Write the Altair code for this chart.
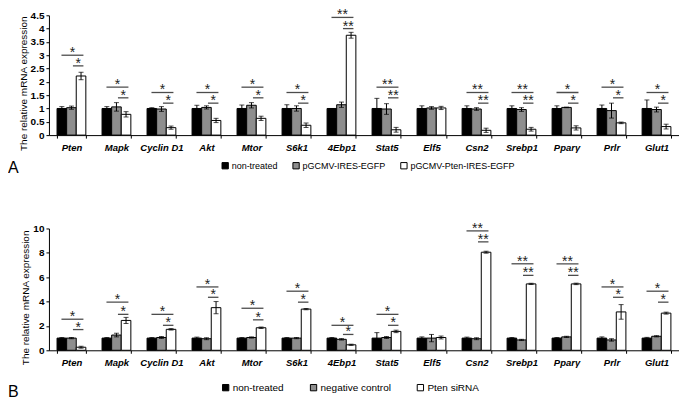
import altair as alt
import pandas as pd

genes = ["Pten", "Mapk", "Cyclin D1", "Akt", "Mtor", "S6k1", "4Ebp1", "Stat5",
         "Elf5", "Csn2", "Srebp1", "Pparγ", "Prlr", "Glut1"]

# ---- Panel A ----
a_series = ["non-treated", "pGCMV-IRES-EGFP", "pGCMV-Pten-IRES-EGFP"]
a_nt = [1, 1, 1, 1, 1, 1, 1, 1, 1, 1, 1, 1, 1, 1]
a_nt_err = [0.07, 0.07, 0.03, 0.12, 0.13, 0.14, 0.0, 0.38, 0.1, 0.1, 0.1, 0.1, 0.13, 0.32]
a_ctrl = [1.03, 1.06, 0.98, 1.04, 1.12, 1.0, 1.14, 0.98, 1.02, 0.98, 0.96, 1.04, 0.92, 0.96]
a_ctrl_err = [0.06, 0.16, 0.09, 0.06, 0.1, 0.1, 0.1, 0.2, 0.05, 0.05, 0.07, 0.01, 0.28, 0.09]
a_pten = [2.22, 0.78, 0.28, 0.55, 0.63, 0.37, 3.75, 0.2, 1.02, 0.18, 0.22, 0.27, 0.46, 0.32]
a_pten_err = [0.14, 0.1, 0.06, 0.08, 0.08, 0.08, 0.11, 0.09, 0.06, 0.08, 0.07, 0.08, 0.03, 0.09]
a_big = [3.0, 1.8, 1.6, 1.6, 1.8, 1.6, 4.42, 1.8, None, 1.6, 1.6, 1.6, 1.8, 1.6]
a_small = [2.6, 1.4, 1.2, 1.2, 1.4, 1.2, 4.0, 1.4, None, 1.2, 1.2, 1.2, 1.4, 1.2]
a_stars = ["*", "*", "*", "*", "*", "*", "**", "**", "", "**", "**", "*", "*", "*"]
a_ticks = [0, 0.5, 1, 1.5, 2, 2.5, 3, 3.5, 4, 4.5]

# ---- Panel B ----
b_series = ["non-treated", "negative control", "Pten siRNA"]
b_nt = [1, 1, 1, 1, 1, 1, 1, 1, 1, 1, 1, 1, 1, 1]
b_nt_err = [0.05, 0.05, 0.05, 0.08, 0.05, 0.05, 0.05, 0.45, 0.1, 0.08, 0.05, 0.05, 0.1, 0.06]
b_ctrl = [1.0, 1.25, 1.05, 0.95, 1.05, 1.0, 0.9, 1.05, 1.0, 0.95, 0.85, 1.1, 0.85, 1.15]
b_ctrl_err = [0.05, 0.15, 0.08, 0.08, 0.05, 0.05, 0.06, 0.08, 0.3, 0.08, 0.05, 0.05, 0.1, 0.05]
b_si = [0.25, 2.45, 1.72, 3.5, 1.85, 3.38, 0.45, 1.55, 1.05, 8.05, 5.45, 5.45, 3.15, 3.05]
b_si_err = [0.08, 0.25, 0.06, 0.5, 0.06, 0.05, 0.05, 0.1, 0.12, 0.08, 0.05, 0.06, 0.6, 0.08]
b_big = [2.55, 3.95, 2.95, 5.2, 3.45, 4.85, 2.05, 2.95, None, 9.8, 7.1, 7.1, 5.2, 4.85]
b_small = [1.7, 2.95, 2.05, 4.35, 2.5, 3.95, 1.3, 2.05, None, 8.9, 6.15, 6.15, 4.35, 3.95]
b_stars = ["*", "*", "*", "*", "*", "*", "*", "*", "", "**", "**", "**", "*", "*"]
b_ticks = [0, 2, 4, 6, 8, 10]

colors = ["#000000", "#8e8e8e", "#ffffff"]
FONT = "Liberation Sans"


def panel(series, vals, errs, big, small, stars, ymax, tickvals, fmt, height, letter,
          letter_y, legend_x, legend_y, col_pad, legend_fs):
    rows = []
    for si, (s, v, e) in enumerate(zip(series, vals, errs)):
        for g, vv, ee in zip(genes, v, e):
            rows.append({"gene": g, "series": s, "idx": si, "value": vv,
                         "lo": vv - ee, "hi": vv + ee})
    df = pd.DataFrame(rows)
    br = pd.DataFrame({"gene": genes, "big": big, "small": small, "stars": stars})
    br = br[br["stars"] != ""]

    x = alt.X("gene:N", sort=genes,
              scale=alt.Scale(paddingInner=0.36, paddingOuter=0.18),
              axis=alt.Axis(title=None, labelAngle=0, tickBand="extent", tickSize=3,
                            labelFont=FONT, labelFontSize=9.5, labelFontStyle="italic",
                            labelFontWeight="bold", labelColor="black", labelPadding=4,
                            domainColor="black", tickColor="black"))
    xo = alt.XOffset("idx:O", scale=alt.Scale(paddingInner=0, paddingOuter=0))
    yscale = alt.Scale(domain=[0, ymax], nice=False)
    yaxis = alt.Axis(values=tickvals, format=fmt, grid=False, tickSize=3,
                     labelOverlap=False,
                     labelFont=FONT, labelFontSize=10, labelFontWeight="bold",
                     labelColor="black", domainColor="black", tickColor="black",
                     title="The relative mRNA expression", titleFont=FONT,
                     titleFontSize=10, titleFontWeight="normal",
                     titleColor="black", titlePadding=2,
                     titleY=height / 2 + 8)

    def Y(field):
        return alt.Y(field, type="quantitative", scale=yscale, axis=yaxis)

    bars = alt.Chart(df).mark_bar(stroke="black", strokeWidth=1).encode(
        x=x, xOffset=xo, y=Y("value"),
        color=alt.Color("series:N", sort=series,
                        scale=alt.Scale(domain=series, range=colors),
                        legend=alt.Legend(title=None, orient="none", direction="horizontal",
                                          legendX=legend_x, legendY=legend_y,
                                          symbolType="square", symbolSize=40,
                                          symbolStrokeColor="black", symbolStrokeWidth=1,
                                          labelFont=FONT, labelFontSize=legend_fs,
                                          labelColor="black", labelOffset=2,
                                          columnPadding=col_pad)))
    err = alt.Chart(df).mark_rule(color="black", strokeWidth=1).encode(
        x=x, xOffset=xo, y=Y("lo"), y2="hi:Q")
    cap_lo = alt.Chart(df).mark_tick(color="black", size=5, thickness=1).encode(
        x=x, xOffset=xo, y=Y("lo"))
    cap_hi = alt.Chart(df).mark_tick(color="black", size=5, thickness=1).encode(
        x=x, xOffset=xo, y=Y("hi"))

    big_line = alt.Chart(br).mark_tick(color="black", size=22, thickness=1.3,
                                       xOffset=1).encode(x=x, y=Y("big"))
    small_line = alt.Chart(br).mark_tick(color="black", size=10.5, thickness=1.3,
                                         xOffset=6.75).encode(x=x, y=Y("small"))
    big_star = alt.Chart(br).mark_text(font=FONT, fontSize=14, dx=1, dy=2,
                                       baseline="alphabetic", color="#222").encode(
        x=x, y=Y("big"), text="stars:N")
    small_star = alt.Chart(br).mark_text(font=FONT, fontSize=14, dx=6.75, dy=2,
                                         baseline="alphabetic", color="#222").encode(
        x=x, y=Y("small"), text="stars:N")
    letter_mark = alt.Chart(pd.DataFrame({"t": [letter]})).mark_text(
        font=FONT, fontSize=16, align="left", baseline="middle", color="black").encode(
        x=alt.value(-41), y=alt.value(letter_y), text="t:N")

    return alt.layer(bars, err, cap_lo, cap_hi, big_line, small_line, big_star,
                     small_star, letter_mark).properties(width=631, height=height)


pa = panel(a_series, [a_nt, a_ctrl, a_pten], [a_nt_err, a_ctrl_err, a_pten_err],
           a_big, a_small, a_stars, 4.5, a_ticks, "~g", 120, "A", 153, 172, 146, 12, 9)
pb = panel(b_series, [b_nt, b_ctrl, b_si], [b_nt_err, b_ctrl_err, b_si_err],
           b_big, b_small, b_stars, 10, b_ticks, "d", 122, "B", 164, 172, 154, 23, 10)

chart = alt.vconcat(pa, pb, spacing=45.5, padding=0).resolve_scale(
    color="independent", xOffset="independent"
).configure_view(strokeWidth=0)

chart.save("out.html", embed_options={"renderer": "svg", "actions": False})
